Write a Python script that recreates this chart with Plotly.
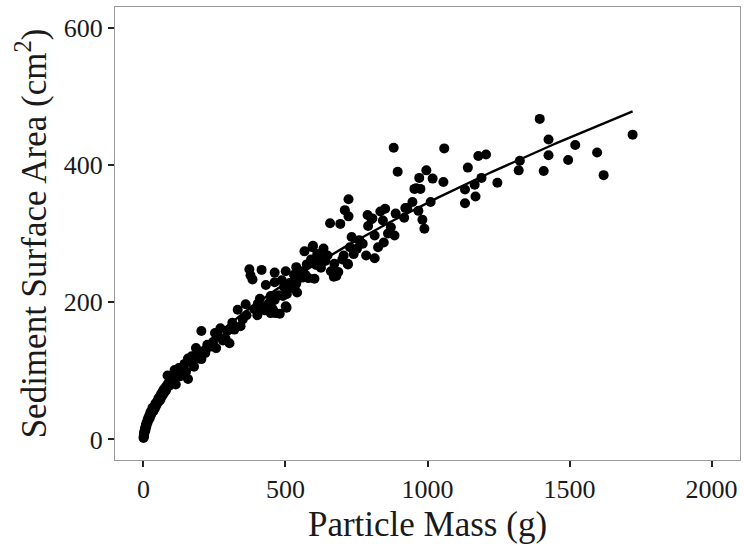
import numpy as np
import plotly.graph_objects as go

# Particle mass (g)
mass = [0.5, 1, 1.5, 2, 3, 3, 4, 5, 6, 7, 8, 9, 10, 11, 12, 14, 15, 16, 18, 20,
        22, 24, 25, 27, 30, 32, 35, 38, 40, 42, 45, 48, 50, 53, 55, 58, 60, 62, 65, 68,
        70, 72, 75, 78, 80, 83, 85, 88, 90, 95, 98, 100, 105, 110, 114, 120, 125, 130, 140, 145,
        150, 157, 157, 165, 170, 178, 185, 190, 195, 204, 204, 210, 218, 225, 235, 245, 252, 256, 265, 271,
        280, 289, 295, 303, 313, 320, 332, 342, 350, 360, 363, 373, 377, 384, 390, 401, 403, 410, 416, 420,
        427, 431, 437, 445, 448, 448, 455, 462, 462, 462, 465, 475, 480, 487, 491, 495, 501, 501, 504, 505,
        515, 520, 530, 538, 538, 541, 548, 555, 562, 567, 570, 575, 581, 590, 595, 597, 602, 608, 612, 619,
        625, 634, 640, 648, 657, 660, 670, 672, 679, 686, 693, 700, 705, 709, 719, 720, 722, 722, 727, 733,
        740, 752, 760, 772, 784, 789, 791, 803, 806, 814, 814, 826, 834, 843, 846, 851, 861, 871, 881, 884,
        888, 895, 918, 922, 929, 947, 954, 960, 968, 971, 975, 982, 989, 996, 1011, 1018, 1056, 1059, 1132, 1132,
        1142, 1166, 1169, 1179, 1190, 1206, 1246, 1321, 1325, 1395, 1409, 1426, 1426, 1495, 1520, 1597, 1620, 1722]

# Sediment surface area (cm^2)
area = [2, 4, 7, 5, 10, 8, 12, 14, 16, 13, 19, 21, 18, 24, 22, 27, 25, 30, 29, 34,
        31, 37, 40, 36, 42, 46, 41, 48, 45, 52, 49, 55, 53, 60, 56, 62, 58, 66, 63, 70,
        66, 73, 69, 76, 72, 79, 93, 82, 78, 86, 84, 93, 89, 101, 80, 96, 104, 92, 104, 110,
        99, 118, 88, 114, 121, 106, 133, 125, 118, 158, 117, 128, 126, 138, 135, 142, 155, 133, 150, 162,
        144, 147, 158, 140, 170, 160, 189, 165, 175, 197, 181, 248, 239, 233, 190, 181, 198, 205, 247, 192,
        188, 225, 196, 200, 209, 184, 190, 203, 243, 229, 184, 210, 183, 232, 209, 222, 245, 194, 192, 212,
        228, 221, 240, 227, 251, 214, 235, 245, 236, 274, 240, 255, 235, 262, 280, 282, 234, 254, 270, 266,
        250, 278, 260, 268, 315, 245, 237, 256, 238, 244, 314, 262, 268, 334, 256, 255, 350, 325, 280, 295,
        270, 278, 290, 285, 268, 327, 311, 321, 322, 264, 297, 280, 332, 319, 287, 336, 300, 309, 425, 297,
        329, 390, 323, 337, 337, 346, 365, 366, 333, 381, 365, 320, 307, 392, 346, 380, 375, 424, 364, 344,
        396, 371, 354, 413, 381, 415, 374, 392, 406, 467, 391, 437, 414, 407, 429, 418, 385, 444]

x_ticks = [0, 500, 1000, 1500, 2000]
y_ticks = [0, 200, 400, 600]

x = np.array(mass, dtype=float)
y = np.array(area, dtype=float)

# power-law fit y = a * x^b (least squares, Gauss-Newton from log-log start)
b, loga = np.polyfit(np.log(x), np.log(y), 1)
a = np.exp(loga)
for _ in range(50):
    f = a * x ** b
    J = np.column_stack([x ** b, a * x ** b * np.log(x)])
    step, *_ = np.linalg.lstsq(J, y - f, rcond=None)
    a += step[0]
    b += step[1]
x_fit = np.linspace(x.min(), x.max(), 200)
y_fit = a * x_fit ** b

FONT = "Liberation Serif"

fig = go.Figure()
fig.add_trace(go.Scatter(x=mass, y=area, mode="markers",
                         marker=dict(color="black", size=10, line=dict(width=0)),
                         showlegend=False, hoverinfo="skip"))
fig.add_trace(go.Scatter(x=x_fit, y=y_fit, mode="lines",
                         line=dict(color="black", width=2.4),
                         showlegend=False, hoverinfo="skip"))

fig.update_layout(
    width=744, height=547,
    margin=dict(l=115, r=4, t=7, b=87),
    paper_bgcolor="white", plot_bgcolor="white",
    font=dict(family=FONT, color="#1a1a1a"),
    xaxis=dict(range=[-100, 2100], tickvals=x_ticks, ticktext=[str(v) for v in x_ticks],
               automargin=False,
               showgrid=False, zeroline=False, showline=True, mirror=True,
               linecolor="#9a9a9a", linewidth=1.3,
               ticks="outside", ticklen=6, tickwidth=1.8, tickcolor="#222",
               tickfont=dict(size=26, family=FONT, color="#1a1a1a"),
               title=dict(text="Particle Mass (g)", font=dict(size=35, family=FONT, color="#1a1a1a"),
                          standoff=8)),
    yaxis=dict(range=[-30, 630], tickvals=y_ticks, ticktext=[str(v) for v in y_ticks],
               automargin=False,
               showgrid=False, zeroline=False, showline=True, mirror=True,
               linecolor="#9a9a9a", linewidth=1.3,
               ticks="outside", ticklen=6, tickwidth=1.8, tickcolor="#222",
               tickfont=dict(size=26, family=FONT, color="#1a1a1a"),
               title=dict(text="Sediment Surface Area (cm<sup>2</sup>)",
                          font=dict(size=35, family=FONT, color="#1a1a1a"), standoff=6)),
)

fig.write_html("out.html", config={"displayModeBar": False},
               post_script="document.body.style.margin='0';document.body.style.overflow='hidden';")
